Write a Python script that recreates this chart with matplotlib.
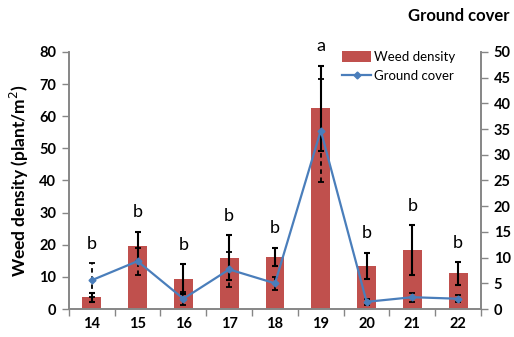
import numpy as np
import matplotlib
matplotlib.use("Agg")
import matplotlib.pyplot as plt

plt.rcParams['font.family'] = ['Lato', 'DejaVu Sans']

# Treatments on the category axis
categories = ["14", "15", "16", "17", "18", "19", "20", "21", "22"]

# Weed density (plant/m2) with error
weed_density = [3.6, 19.5, 9.3, 16.0, 16.3, 62.5, 13.4, 18.4, 11.1]
weed_err = [1.4, 4.6, 4.7, 7.0, 2.8, 13.2, 4.1, 7.8, 3.5]

# Ground cover (%) with error
ground_cover = [5.6, 9.3, 2.0, 7.7, 5.0, 34.7, 1.4, 2.3, 2.0]
ground_err = [3.3, 2.6, 1.3, 3.4, 1.3, 10.0, 0.6, 0.9, 0.7]

# Mean separation letters
letters = ["b", "b", "b", "b", "b", "a", "b", "b", "b"]

bar_color = "#C0504D"
line_color = "#4A7EBB"
axis_gray = "#868686"

fig = plt.figure(figsize=(5.14, 3.37), dpi=100)
ax = fig.add_axes([0.134, 0.083, 0.802, 0.763])
ax2 = ax.twinx()

x = np.arange(len(categories))
ax.bar(x, weed_density, width=0.41, color=bar_color, label="Weed density", zorder=2)
ax.errorbar(x, weed_density, yerr=weed_err, fmt="none", ecolor="black",
            elinewidth=1.5, capsize=2.5, capthick=1.5, zorder=3)

ax2.plot(x, ground_cover, color=line_color, lw=1.6, marker="D", ms=3.5,
         label="Ground cover", zorder=4)
eb = ax2.errorbar(x, ground_cover, yerr=ground_err, fmt="none", ecolor="black",
                  elinewidth=1.3, capsize=2.5, capthick=1.3, zorder=3)
eb[2][0].set_linestyle((0, (2.5, 2)))

ax.set_xlim(-0.5, len(categories) - 0.5)
ax.set_ylim(0, 80)
ax2.set_ylim(0, 50)
ax.set_yticks(np.arange(0, 81, 10))
ax2.set_yticks(np.arange(0, 51, 5))

# category ticks sit between the bars, labels at the centres
ax.set_xticks(np.arange(-0.5, len(categories), 1.0))
ax.set_xticklabels([])
ax.set_xticks(x, minor=True)
ax.set_xticklabels(categories, minor=True)
ax.tick_params(axis="x", which="minor", length=0, pad=6)
ax.tick_params(axis="x", which="major", length=5, color=axis_gray, width=1)

for a in (ax, ax2):
    a.spines["top"].set_visible(False)
    for s in ("left", "right", "bottom"):
        a.spines[s].set_color(axis_gray)
        a.spines[s].set_linewidth(1.2)
    a.tick_params(axis="y", length=5, color=axis_gray, width=1, labelsize=10.5)
    for lab in a.get_yticklabels():
        lab.set_fontweight("bold")
ax.tick_params(axis="y", pad=4)
ax2.tick_params(axis="y", pad=4)
for lab in ax.get_xticklabels(minor=True):
    lab.set_fontweight("bold")
    lab.set_fontsize(10.5)

ax.set_ylabel("Weed density (plant/m$^2$)", fontsize=12.5, fontweight="bold", labelpad=6)

# letters above the taller of the two error bars
scale = 80 / 50
for xi, w, we, g, ge, letter in zip(x, weed_density, weed_err, ground_cover, ground_err, letters):
    top = max(w + we, (g + ge) * scale)
    ax.text(xi, top + 6, letter, ha="center", va="center", fontsize=13, zorder=5)

fig.text(0.992, 0.952, "Ground cover", ha="right", va="center", fontsize=12, fontweight="bold")

h1, l1 = ax.get_legend_handles_labels()
h2, l2 = ax2.get_legend_handles_labels()
leg = ax2.legend(h1 + h2, l1 + l2, loc="upper right", bbox_to_anchor=(0.96, 1.04),
                 frameon=False, fontsize=9.5, handlelength=2.2, handleheight=0.9,
                 handletextpad=0.2, labelspacing=0.55, borderaxespad=0.3)

fig.savefig("out.png", dpi=100)
